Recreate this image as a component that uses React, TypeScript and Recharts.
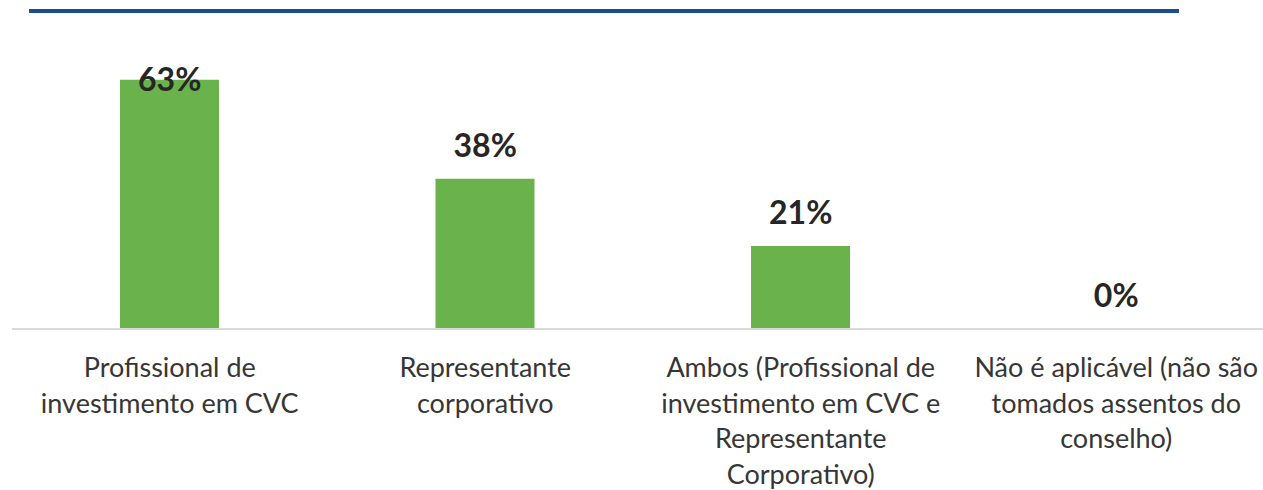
import { ComposedChart, Bar, Line, XAxis, YAxis } from "recharts";

const CATEGORIES = [
  ["Profissional de", "investimento em CVC"],
  ["Representante", "corporativo"],
  ["Ambos (Profissional de", "investimento em CVC e", "Representante", "Corporativo)"],
  ["Não é aplicável (não são", "tomados assentos do", "conselho)"],
];

const VALUES = [63, 38, 21, 0];

const data = CATEGORIES.map((lines, i) => ({
  name: lines.join(" "),
  value: VALUES[i],
}));

const PLOT_TOP = 52;
const FONT = "Lato, 'Open Sans', sans-serif";

function CategoryTick(props: any) {
  const { x, y, index } = props;
  const lines = CATEGORIES[index] || [];
  return (
    <text
      x={x}
      y={y + 40}
      textAnchor="middle"
      fill="#363636"
      fontSize={27}
      fontFamily={FONT}
    >
      {lines.map((l, i) => (
        <tspan key={i} x={x} dy={i === 0 ? 0 : 35.5}>
          {l}
        </tspan>
      ))}
    </text>
  );
}

// labels hang off an invisible line so the 0% bar still gets one
function renderValueLabel(props: any) {
  const { x, y, value, index } = props;
  const ty = Math.max(y - 22, PLOT_TOP + 39);
  return (
    <text
      key={`lbl-${index}`}
      x={x}
      y={ty}
      textAnchor="middle"
      fill="#262626"
      fontSize={32}
      fontWeight={700}
      fontFamily={FONT}
    >
      {value}%
    </text>
  );
}

export default function App() {
  return (
    <div
      style={{
        position: "absolute",
        top: 0,
        left: 0,
        width: 1263,
        height: 490,
        overflow: "hidden",
        background: "#fff",
      }}
    >
      <div
        style={{
          position: "absolute",
          top: 9,
          left: 29,
          width: 1150,
          height: 4,
          background: "#1B4F8B",
        }}
      />
      <ComposedChart
        width={1290}
        height={490}
        data={data}
        margin={{ top: PLOT_TOP, right: 16, bottom: 0, left: 12 }}
        barSize={99}
      >
        <XAxis
          dataKey="name"
          axisLine={{ stroke: "#d9d9d9", strokeWidth: 2 }}
          tickLine={false}
          height={161}
          interval={0}
          tick={<CategoryTick />}
        />
        <YAxis hide domain={[0, 70]} />
        <Bar dataKey="value" fill="#6AB24C" isAnimationActive={false} />
        <Line
          dataKey="value"
          stroke="none"
          dot={false}
          activeDot={false}
          isAnimationActive={false}
          label={renderValueLabel}
        />
      </ComposedChart>
    </div>
  );
}
